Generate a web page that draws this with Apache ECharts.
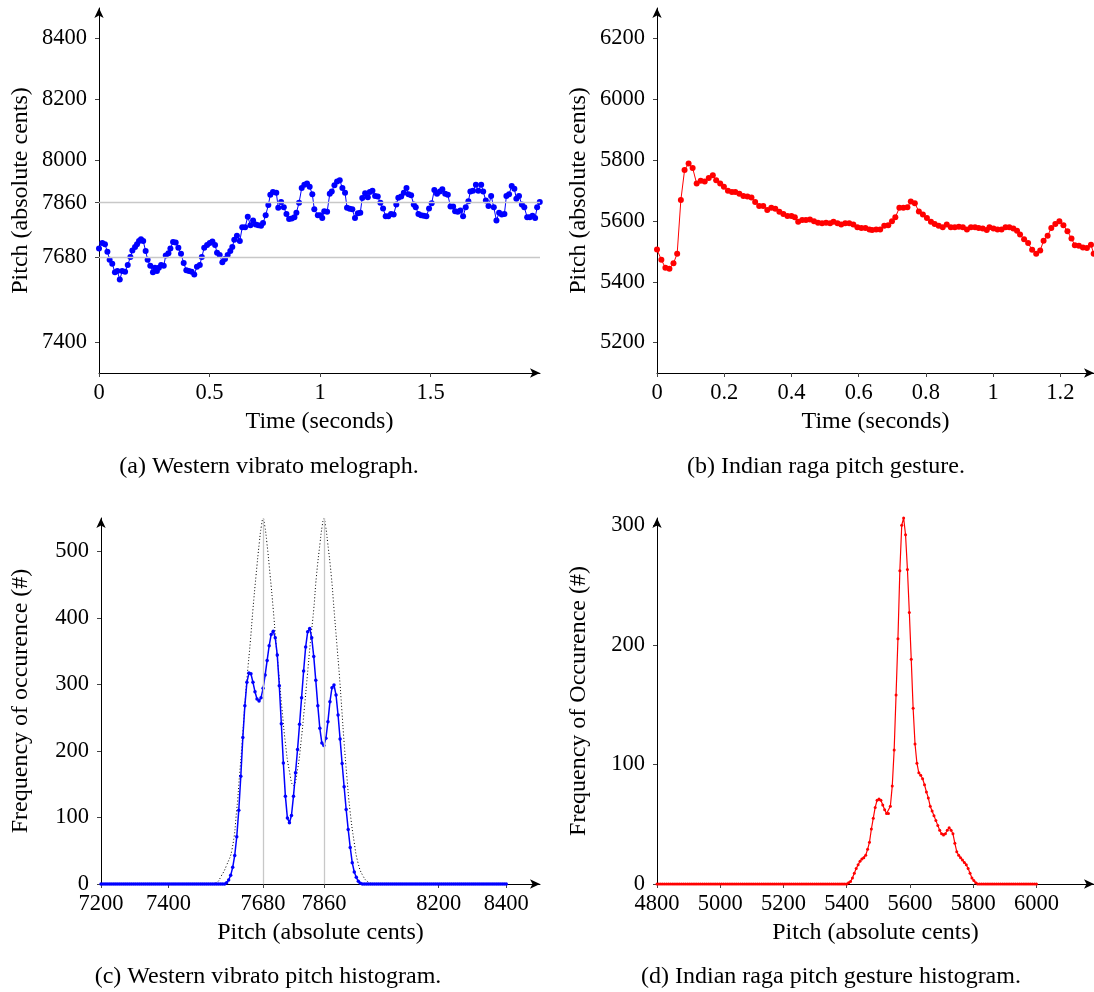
<!DOCTYPE html>
<html><head><meta charset="utf-8">
<script src="https://cdn.jsdelivr.net/npm/echarts@6/dist/echarts.min.js"></script>
<style>html,body{margin:0;padding:0;background:#fff}#c{width:1094px;height:992px}</style>
</head><body><div id="c"></div>
<script>
// ---------- (a) Western vibrato melograph ----------
const timesA = [0,.015,.027,.038,.048,.060,.072,.083,.094,.105,
.118,.130,.142,.151,.163,.172,.181,.190,.200,.211,
.220,.232,.244,.253,.262,.271,.281,.293,.302,.314,
.323,.335,.347,.359,.371,.383,.395,.407,.419,.431,
.443,.456,.465,.476,.489,.501,.513,.525,.534,.546,
.558,.570,.582,.594,.603,.612,.624,.637,.648,.661,
.673,.685,.697,.709,.721,.733,.742,.754,.766,.775,
.787,.802,.811,.824,.836,.848,.860,.872,.884,.893,
.905,.917,.929,.941,.953,.965,.974,.990,1.001,1.010,
1.019,1.032,1.044,1.053,1.065,1.077,1.089,1.101,1.113,1.122,
1.134,1.146,1.158,1.171,1.182,1.191,1.204,1.216,1.225,1.237,
1.249,1.261,1.273,1.285,1.297,1.309,1.321,1.333,1.345,1.354,
1.367,1.379,1.391,1.400,1.412,1.424,1.433,1.445,1.457,1.469,
1.481,1.493,1.505,1.517,1.529,1.542,1.553,1.566,1.578,1.590,
1.602,1.611,1.623,1.635,1.647,1.659,1.671,1.680,1.692,1.705,
1.716,1.729,1.738,1.750,1.762,1.774,1.786,1.798,1.810,1.822,
1.834,1.843,1.855,1.867,1.879,1.888,1.900,1.913,1.924,1.937,
1.949,1.961,1.973,1.982,1.994];
const pitchA = [7709,7727,7723,7699,7672,7659,7631,7635,7607,7635,
7633,7655,7681,7703,7714,7723,7734,7740,7734,7701,
7672,7653,7631,7646,7635,7646,7655,7653,7686,7694,
7709,7731,7729,7712,7692,7662,7638,7635,7633,7624,
7649,7655,7681,7712,7721,7727,7732,7721,7695,7688,
7664,7675,7688,7701,7714,7738,7751,7734,7779,7779,
7814,7786,7801,7788,7786,7784,7793,7819,7852,7886,
7895,7893,7843,7862,7845,7823,7806,7808,7812,7827,
7860,7908,7919,7923,7912,7888,7838,7819,7819,7810,
7832,7830,7889,7897,7917,7930,7934,7908,7893,7843,
7840,7838,7810,7825,7827,7875,7891,7878,7895,7899,
7882,7880,7860,7841,7815,7815,7823,7821,7854,7876,
7880,7893,7908,7888,7884,7854,7845,7823,7819,7817,
7815,7841,7858,7902,7889,7897,7904,7889,7886,7847,
7847,7832,7830,7834,7815,7845,7865,7897,7899,7919,
7899,7919,7897,7867,7849,7882,7845,7801,7827,7821,
7823,7882,7888,7915,7906,7873,7882,7854,7845,7812,
7812,7817,7810,7845,7862];
const yTicksA = [7400,7680,7860,8000,8200,8400];
const xTicksA = [0,0.5,1,1.5];
const gridLinesA = [7680,7860];

// ---------- (b) Indian raga pitch gesture ----------
const timesB = [0,.013,.025,.037,.049,.060,.071,.082,.094,.106,
.118,.130,.142,.154,.166,.176,.188,.199,.211,.223,
.233,.245,.257,.269,.281,.292,.304,.316,.328,.340,
.352,.364,.376,.388,.400,.410,.420,.432,.443,.455,
.467,.479,.491,.503,.515,.525,.537,.548,.560,.572,
.584,.596,.608,.620,.632,.640,
.652,.664,.676,.688,.699,.709,.721,.733,.745,.755,
.767,.779,.791,.803,.815,.826,.838,.850,.862,.874,
.886,.898,.910,.922,.934,.946,.957,.969,.981,.989,
1.001,1.013,1.025,1.037,1.048,1.060,1.071,1.080,1.092,1.104,
1.116,1.128,1.140,1.150,1.162,1.173,1.185,1.197,1.209,1.221,
1.233,1.243,1.255,1.267,1.279,1.291,1.299];
const pitchB = [5506,5472,5446,5443,5461,5492,5669,5767,5789,5774,
5723,5732,5730,5741,5750,5734,5723,5712,5699,5695,
5695,5689,5682,5680,5677,5662,5649,5649,5636,5643,
5640,5630,5623,5616,5616,5612,5597,5603,5603,5605,
5599,5594,5592,5594,5592,5597,5592,5588,5592,5592,
5588,5579,5577,5577,5572,5570,
5572,5572,5584,5586,5599,5612,5643,5643,5645,5664,
5658,5631,5621,5610,5597,5590,5584,5579,5588,5579,
5579,5581,5579,5572,5579,5579,5577,5575,5570,5579,
5575,5572,5572,5579,5579,5575,5568,5555,5540,5527,
5505,5492,5503,5535,5551,5577,5590,5599,5586,5566,
5542,5520,5518,5513,5511,5522,5492];
const yTicksB = [5200,5400,5600,5800,6000,6200];
const xTicksB = [0,0.2,0.4,0.6,0.8,1,1.2];

// ---------- (c) Western vibrato pitch histogram ----------
const binStartC = 7200, binWidthC = 6;
const countsC = [
0,0,0,0,0,0,0,0,0,0, 0,0,0,0,0,0,0,0,0,0, 0,0,0,0,0,0,0,0,0,0,
0,0,0,0,0,0,0,0,0,0, 0,0,0,0,0,0,0,0,0,0, 0,0,0,0,0,0,0,0,0,0, 0,0,
2,6,13,25,43,71,111,162,220,268,
303,317,316,303,289,278,275,280,294,314,
336,358,375,380,370,344,298,241,182,132,
99,92,103,132,167,202,240,280,320,356,
379,384,370,342,306,268,234,212,208,219,
244,274,295,299,284,254,218,181,146,112,
82,55,32,18,10,4,1,
0,0,0,0,0,0,0,0,0,0, 0,0,0,0,0,0,0,0,0,0, 0,0,0,0,0,0,0,0,0,0,
0,0,0,0,0,0,0,0,0,0, 0,0,0,0,0,0,0,0,0,0, 0,0,0,0,0,0,0,0,0,0,
0,0,0,0,0,0,0,0,0,0, 0,0];
// dotted reference curve (cents, count)
const refCentsC = [7520,7541,7556,7571,7588,7602,7610,7618,7625,7633,7642,7650,7659,7669,7675,7680,7685,7691,7701,7710,7718,7727,7736,7746,7757,7770,7782,7792,7802,7811,7820,7830,7838,7849,7855,7860,7865,7871,7882,7890,7898,7906,7913,7920,7928,7937,7950,7961,7976,7994,8010];
const refCountC = [0,2,12,27,52,112,162,212,263,313,363,413,463,514,538,549,538,514,463,413,363,313,263,212,172,148,172,212,263,313,363,413,463,514,538,549,538,514,463,413,363,313,263,212,162,112,62,32,12,2,0];
const xTicksC = [7200,7400,7680,7860,8200,8400];
const yTicksC = [0,100,200,300,400,500];
const gridLinesC = [7680,7860];

// ---------- (d) Indian raga pitch gesture histogram ----------
const binStartD = 4800, binWidthD = 6;
const countsD = [
0,0,0,0,0,0,0,0,0,0, 0,0,0,0,0,0,0,0,0,0, 0,0,0,0,0,0,0,0,0,0,
0,0,0,0,0,0,0,0,0,0, 0,0,0,0,0,0,0,0,0,0, 0,0,0,0,0,0,0,0,0,0,
0,0,0,0,0,0,0,0,0,0, 0,0,0,0,0,0,0,0,0,0, 0,0,0,0,0,0,0,0,0,0,
0,0,0,0,0,0,0,0,0,0, 0,
1,2,5,9,13,16,19,21,22,24,
29,35,46,55,64,70,71,70,66,62,
59,59,65,82,112,158,205,262,300,306,
292,263,227,188,147,117,101,93,91,88,
83,77,72,65,61,57,53,49,45,42,
41,42,45,47,45,42,34,27,24,22,
20,18,16,13,9,5,3,1,
0,0,0,0,0,0,0,0,0,0, 0,0,0,0,0,0,0,0,0,0, 0,0,0,0,0,0,0,0,0,0, 0,0];
const xTicksD = [4800,5000,5200,5400,5600,5800,6000];
const yTicksD = [0,100,200,300];

// ---------- chart ----------
const FONT = '"Liberation Serif","DejaVu Serif",serif';
const chart = echarts.init(document.getElementById('c'), null, {renderer:'canvas'});

function axis(gridIndex, min, max, ticks, name, nameGap, labelMargin) {
  return {
    type:'value', gridIndex, min, max, name,
    nameLocation:'middle', nameGap,
    nameTextStyle:{fontFamily:FONT, fontSize:24, color:'#000'},
    axisLine:{show:true, onZero:false, symbol:['none','arrow'], symbolSize:[7,10],
      lineStyle:{color:'#000', width:1}},
    axisTick:{show:true, customValues:ticks, length:4, lineStyle:{color:'#444', width:1}},
    axisLabel:{show:true, customValues:ticks, fontFamily:FONT, fontSize:22.5, color:'#000',
      margin:labelMargin, formatter:(v)=>String(v)},
    splitLine:{show:false}
  };
}
const gridMark = (vals, key) => ({
  silent:true, symbol:'none', label:{show:false}, animation:false,
  lineStyle:{color:'#c8c8c8', type:'solid', width:1.3},
  data: vals.map(v => ({[key]: v}))
});

const option = {
  animation:false,
  backgroundColor:'#fff',
  grid:[
    {left:99, top:8, width:441, height:365},
    {left:657, top:8, width:437, height:365},
    {left:101, top:518, width:439, height:366},
    {left:657, top:518, width:437, height:366}
  ],
  xAxis:[
    axis(0, 0, 1.995, xTicksA, 'Time (seconds)', 37, 9),
    axis(1, 0, 1.3, xTicksB, 'Time (seconds)', 37, 9),
    axis(2, 7200, 8500, xTicksC, 'Pitch (absolute cents)', 37, 9),
    axis(3, 4800, 6182, xTicksD, 'Pitch (absolute cents)', 37, 9)
  ],
  yAxis:[
    axis(0, 7300, 8500, yTicksA, 'Pitch (absolute cents)', 66, 12),
    axis(1, 5100, 6300, yTicksB, 'Pitch (absolute cents)', 66, 12),
    axis(2, 0, 550, yTicksC, 'Frequency of occurence (#)', 68, 12),
    axis(3, 0, 306, yTicksD, 'Frequency of Occurence (#)', 66, 12)
  ],
  series:[
    {type:'line', xAxisIndex:0, yAxisIndex:0, z:3, clip:false,
     data: timesA.map((t,i)=>[t, pitchA[i]]),
     symbol:'circle', symbolSize:6, showAllSymbol:true,
     lineStyle:{color:'#0000ff', width:1}, itemStyle:{color:'#0000ff'},
     markLine: gridMark(gridLinesA, 'yAxis')},
    {type:'line', xAxisIndex:1, yAxisIndex:1, z:3, clip:true,
     data: timesB.map((t,i)=>[t, pitchB[i]]),
     symbol:'circle', symbolSize:6, showAllSymbol:true,
     lineStyle:{color:'#ff0000', width:1}, itemStyle:{color:'#ff0000'}},
    {type:'line', xAxisIndex:2, yAxisIndex:2, z:2, clip:false,
     data: refCentsC.map((c,i)=>[c, refCountC[i]]),
     smooth:0.5, symbol:'none',
     lineStyle:{color:'#000', width:1, type:[1,2.2]},
     markLine: gridMark(gridLinesC, 'xAxis')},
    {type:'line', xAxisIndex:2, yAxisIndex:2, z:3, clip:false,
     data: countsC.map((n,i)=>[binStartC + i*binWidthC, n]),
     symbol:'circle', symbolSize:3.5, showAllSymbol:true,
     lineStyle:{color:'#0000ff', width:1.5}, itemStyle:{color:'#0000ff'}},
    {type:'line', xAxisIndex:3, yAxisIndex:3, z:3, clip:false,
     data: countsD.map((n,i)=>[binStartD + i*binWidthD, n]),
     symbol:'circle', symbolSize:3, showAllSymbol:true,
     lineStyle:{color:'#ff0000', width:1.2}, itemStyle:{color:'#ff0000'}}
  ],
  graphic:[
    {type:'text', x:269, y:467, style:{text:'(a) Western vibrato melograph.', font:'24px '+FONT, fill:'#000', textAlign:'center', textVerticalAlign:'middle'}},
    {type:'text', x:826, y:467, style:{text:'(b) Indian raga pitch gesture.', font:'24px '+FONT, fill:'#000', textAlign:'center', textVerticalAlign:'middle'}},
    {type:'text', x:268, y:977, style:{text:'(c) Western vibrato pitch histogram.', font:'24px '+FONT, fill:'#000', textAlign:'center', textVerticalAlign:'middle'}},
    {type:'text', x:831, y:977, style:{text:'(d) Indian raga pitch gesture histogram.', font:'24px '+FONT, fill:'#000', textAlign:'center', textVerticalAlign:'middle'}}
  ]
};
chart.setOption(option);
</script>
</body></html>
